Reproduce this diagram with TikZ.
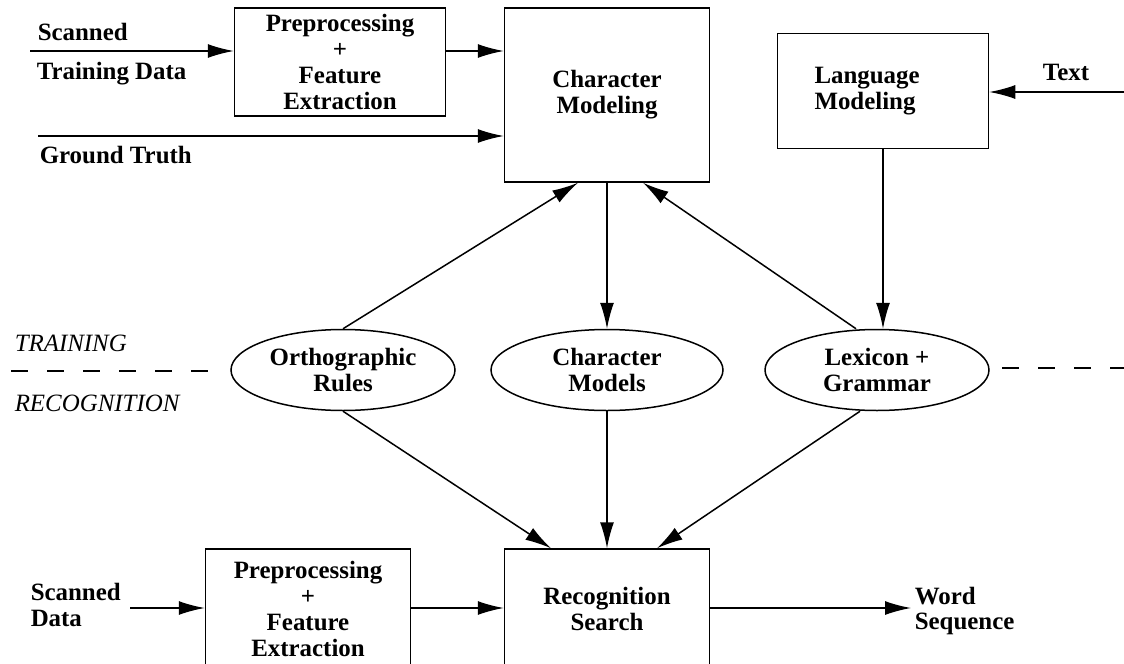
\documentclass[tikz,border=0pt]{standalone}
\usepackage{fontspec}
\setmainfont{Liberation Serif}
\usetikzlibrary{arrows.meta,shapes}

\begin{document}
\begin{tikzpicture}[>={Latex[length=26bp,width=14bp]}, line width=1.5bp,
	font=\fontsize{25}{26}\selectfont\bfseries,
	box/.style={draw, rectangle, align=center, inner sep=0pt},
	oval/.style={draw, ellipse, align=center, inner sep=0pt, minimum width=224bp, minimum height=81bp},
	lbl/.style={align=left, inner sep=0pt},
	phase/.style={font=\fontsize{25}{26}\selectfont\itshape, inner sep=0pt},
	divider/.style={dash pattern=on 17bp off 19bp}]
	\useasboundingbox (0bp,0bp) rectangle (1124bp,-664bp);
	\clip (0bp,0bp) rectangle (1124bp,-664bp);

	\node (prep1)    at (340bp,-62bp)  [box, minimum width=211bp, minimum height=108bp] {Preprocessing\\+\\Feature\\Extraction};
	\node (charmod)  at (607bp,-95bp)  [box, minimum width=205bp, minimum height=174bp] {Character\\Modeling};
	\node (lang)     at (883bp,-91bp)  [box, align=left, text width=137bp, inner xsep=37bp, minimum height=115bp] {Language\\Modeling};
	\node (ortho)    at (343bp,-370bp) [oval] {Orthographic\\Rules};
	\node (charmods) at (607bp,-370bp) [oval, minimum width=232bp] {Character\\Models};
	\node (lexicon)  at (877bp,-370bp) [oval] {Lexicon +\\Grammar};
	\node (prep2)    at (308bp,-609bp) [box, minimum width=205bp, minimum height=120bp] {Preprocessing\\+\\Feature\\Extraction};
	\node (recog)    at (607bp,-609bp) [box, minimum width=205bp, minimum height=120bp] {Recognition\\Search};

	\node (scanned)  at (37bp,-32bp)   [lbl, anchor=west] {Scanned};
	\node (traindat) at (36bp,-74bp)   [lbl, anchor=west] {Training Data};
	\node (ground)   at (39bp,-155bp)  [lbl, anchor=west] {Ground Truth};
	\node (textlbl)  at (1066bp,-72bp) [lbl] {Text};
	\node (scandat)  at (30bp,-605bp)  [lbl, anchor=west] {Scanned\\Data};
	\node (word)     at (911bp,-611bp) [lbl, anchor=west, inner sep=3bp] {Word\\Sequence};
	\node (training) at (14bp,-343bp)  [phase, anchor=west] {TRAINING};
	\node (recogn)   at (14bp,-403bp)  [phase, anchor=west] {RECOGNITION};

	\coordinate (scanin)  at (30bp,-51bp);
	\coordinate (gtin)    at (38bp,-136bp);
	\coordinate (textin)  at (1124bp,-92bp);
	\coordinate (scan2in) at (130bp,-608bp);

	\draw [->] (scanin) -- (scanin -| prep1.west);
	\draw [->] (prep1.east |- scanin) -- (charmod.west |- scanin);
	\draw [->] (gtin) -- (gtin -| charmod.west);
	\draw [->] (textin) -- (textin -| lang.east);
	\draw [->] (lang.south) -- (lang.south |- lexicon.north);

	\draw [->] (charmod.south) -- (charmods.north);
	\draw [->] (ortho.north) -- ([xshift=-29bp]charmod.south);
	\draw [->] ([xshift=-21bp]lexicon.north) -- ([xshift=36bp]charmod.south);
	\draw [->] (ortho.south) -- ([xshift=-56bp]recog.north);
	\draw [->] (charmods.south) -- (recog.north);
	\draw [->] ([xshift=-17bp]lexicon.south) -- ([xshift=50bp]recog.north);

	\draw [->] (scan2in) -- (scan2in -| prep2.west);
	\draw [->] (prep2.east |- scan2in) -- (recog.west |- scan2in);
	\draw [->] (recog.east |- scan2in) -- (scan2in -| word.west);

	\draw [divider] (11bp,-371bp) -- (209bp,-371bp);
	\draw [divider] (1002bp,-368bp) -- (1124bp,-368bp);
\end{tikzpicture}
\end{document}
